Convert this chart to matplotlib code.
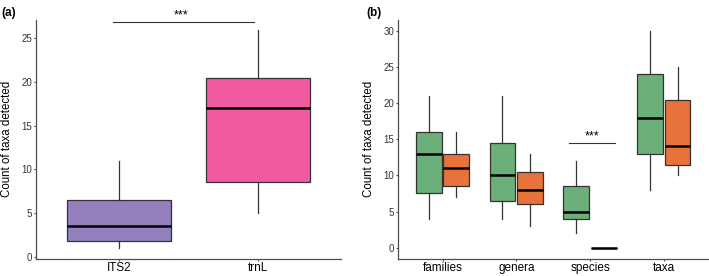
import matplotlib.pyplot as plt

plt.rcParams['font.family'] = ['Liberation Sans', 'DejaVu Sans']

# Panel (a) data: marker comparison
markers = ['ITS2', 'trnL']
a_whislo = [1, 5]
a_q1 = [1.8, 8.5]
a_med = [3.5, 17]
a_q3 = [6.5, 20.5]
a_whishi = [11, 26]
a_colors = ['#9580BE', '#F05A9E']

# Panel (b) data: taxonomic level, two series (green / orange)
levels = ['families', 'genera', 'species', 'taxa']
g_whislo = [4, 4, 2, 8]
g_q1 = [7.5, 6.5, 4, 13]
g_med = [13, 10, 5, 18]
g_q3 = [16, 14.5, 8.5, 24]
g_whishi = [21, 21, 12, 30]
o_whislo = [7, 3, 0, 10]
o_q1 = [8.5, 6, 0, 11.5]
o_med = [11, 8, 0, 14]
o_q3 = [13, 10.5, 0, 20.5]
o_whishi = [16, 13, 0, 25]
green = '#6BAF7B'
orange = '#E8733A'

edge = '#333333'
tick_col = '#4D4D4D'


def make_stats(lo, q1, med, q3, hi):
    return [dict(whislo=a, q1=b, med=c, q3=d, whishi=e, fliers=[])
            for a, b, c, d, e in zip(lo, q1, med, q3, hi)]


def draw(ax, stats, pos, width, colors):
    bp = ax.bxp(stats, positions=pos, widths=width, patch_artist=True,
                showcaps=False, showfliers=False,
                boxprops=dict(edgecolor=edge, linewidth=0.9),
                whiskerprops=dict(color=edge, linewidth=0.9),
                medianprops=dict(color='black', linewidth=1.8))
    for patch, c in zip(bp['boxes'], colors):
        patch.set_facecolor(c)


def style(ax, label_x):
    for s in ['top', 'right']:
        ax.spines[s].set_visible(False)
    for s in ['left', 'bottom']:
        ax.spines[s].set_color(tick_col)
        ax.spines[s].set_linewidth(0.9)
    ax.tick_params(axis='both', colors=tick_col, length=1.5, width=0.8,
                   labelsize=7, labelcolor='#333333', pad=1.5)
    ax.tick_params(axis='x', labelsize=8.5, labelcolor='black', pad=0.8)
    ax.set_ylabel('Count of taxa detected', fontsize=8.3)
    ax.yaxis.set_label_coords(label_x, 0.5)


fig = plt.figure(figsize=(7.09, 2.76), dpi=100)

# ---- panel (a)
ax1 = fig.add_axes([0.0508, 0.0634, 0.430, 0.8641])
pos_a = [1, 2]
draw(ax1, make_stats(a_whislo, a_q1, a_med, a_q3, a_whishi), pos_a, 0.75, a_colors)
ax1.plot([0.955, 1.975], [26.85, 26.85], color=edge, linewidth=0.8)
ax1.text(1.45, 26.95, '***', ha='center', va='bottom', fontsize=9)
ax1.set_xlim(0.4, 2.6)
ax1.set_ylim(-0.2, 27.1)
ax1.set_xticks(pos_a)
ax1.set_xticklabels(markers)
ax1.set_yticks([0, 5, 10, 15, 20, 25])
style(ax1, -0.076)
fig.text(0.002, 0.975, '(a)', fontsize=8.5, fontweight='bold', va='top')

# ---- panel (b)
ax2 = fig.add_axes([0.5618, 0.0634, 0.4368, 0.8641])
pos_b = list(range(1, len(levels) + 1))
off = 0.1875
draw(ax2, make_stats(g_whislo, g_q1, g_med, g_q3, g_whishi),
     [p - off for p in pos_b], 0.35, [green] * 4)
draw(ax2, make_stats(o_whislo, o_q1, o_med, o_q3, o_whishi),
     [p + off for p in pos_b], 0.35, [orange] * 4)
ax2.plot([2.72, 3.34], [14.45, 14.45], color=edge, linewidth=0.8)
ax2.text(3.03, 14.55, '***', ha='center', va='bottom', fontsize=9)
ax2.set_xlim(0.4, 4.6)
ax2.set_ylim(-1.5, 31.5)
ax2.set_xticks(pos_b)
ax2.set_xticklabels(levels)
ax2.set_yticks([0, 5, 10, 15, 20, 25, 30])
style(ax2, -0.076)
fig.text(0.5163, 0.975, '(b)', fontsize=8.5, fontweight='bold', va='top')

fig.savefig('out.png', dpi=100)
